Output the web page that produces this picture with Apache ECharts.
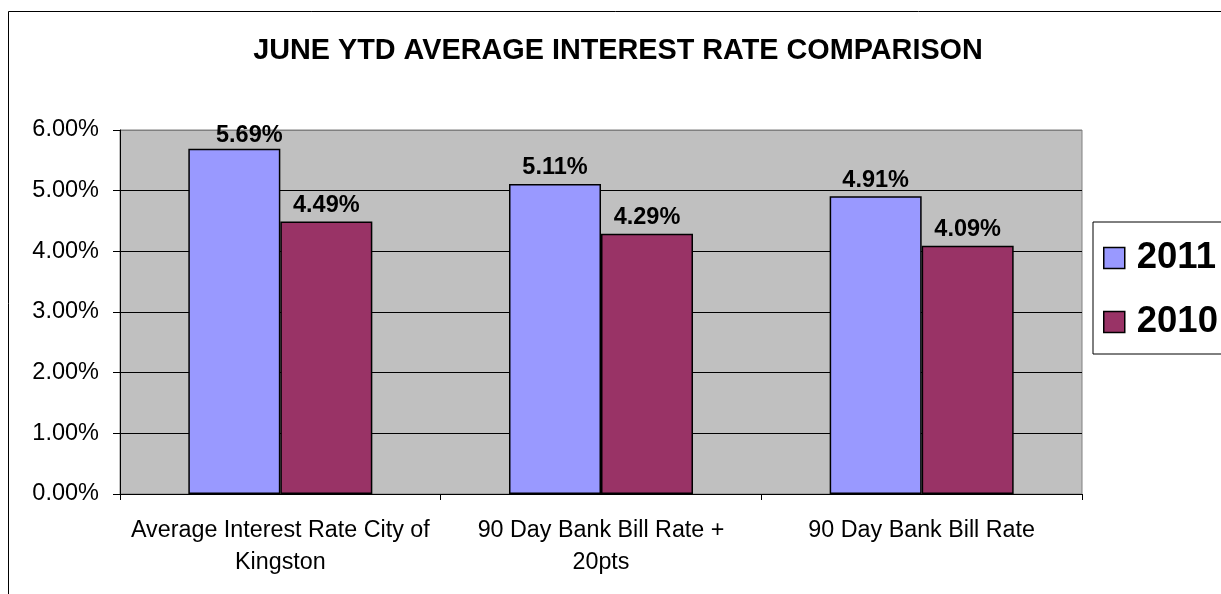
<!DOCTYPE html>
<html>
<head>
<meta charset="utf-8">
<script src="https://cdn.jsdelivr.net/npm/echarts@6/dist/echarts.min.js"></script>
<style>html,body{margin:0;padding:0;background:#fff}#c{width:1221px;height:594px}</style>
</head>
<body>
<div id="c"></div>
<script>
const titleText = 'JUNE YTD AVERAGE INTEREST RATE COMPARISON';
const categories = ['Average Interest Rate City of\nKingston', '90 Day Bank Bill Rate +\n20pts', '90 Day Bank Bill Rate'];
const seriesNames = ['2011', '2010'];
const values2011 = [5.69, 5.11, 4.91];
const values2010 = [4.49, 4.29, 4.09];
const yTicks = [0, 1, 2, 3, 4, 5, 6];

const FONT = '"Liberation Sans", Arial, sans-serif';
const chart = echarts.init(document.getElementById('c'));
const pct = v => Number(v).toFixed(2) + '%';
const barLabel = {
  show: true, position: 'top', distance: 4,
  fontFamily: FONT, fontSize: 23.5, fontWeight: 'bold', color: '#000',
  formatter: p => pct(p.value)
};
// first label in reference is nudged right/down to clear the plot top
const data2011 = values2011.map((v, i) => i === 0 ? { value: v, label: { offset: [15, 3] } } : v);
chart.setOption({
  animation: false,
  backgroundColor: '#fff',
  graphic: [
    { type: 'rect', shape: { x: 8.5, y: 11.5, width: 1400, height: 800 }, style: { fill: 'none', stroke: '#000', lineWidth: 1 }, silent: true, z: -1 },
    { type: 'text', x: 618, y: 51, style: { text: titleText, fontFamily: FONT, fontSize: 28.8, fontWeight: 'bold', fill: '#000', align: 'center', verticalAlign: 'middle' } }
  ],
  grid: { left: 120, right: 139, top: 130, bottom: 100, show: true, backgroundColor: '#C0C0C0', borderColor: '#808080', borderWidth: 1 },
  legend: {
    orient: 'vertical', left: 1093, top: 222,
    padding: [16, 60, 12, 10], itemGap: 24,
    backgroundColor: '#fff', borderColor: '#000', borderWidth: 1,
    itemWidth: 21, itemHeight: 21, icon: 'rect',
    itemStyle: { borderColor: '#000', borderWidth: 1.5 },
    textStyle: { fontFamily: FONT, fontSize: 36.5, fontWeight: 'bold', color: '#000', lineHeight: 40, padding: [0, 0, 0, 7] },
    data: seriesNames
  },
  xAxis: {
    type: 'category', data: categories,
    axisLine: { lineStyle: { color: '#000', width: 1 } },
    axisTick: { show: true, alignWithLabel: false, length: 6, lineStyle: { color: '#000' } },
    axisLabel: { fontFamily: FONT, fontSize: 23.3, color: '#000', lineHeight: 32, margin: 21, interval: 0 }
  },
  yAxis: {
    type: 'value', min: yTicks[0], max: yTicks[yTicks.length - 1], interval: 1,
    axisLine: { show: true, lineStyle: { color: '#000', width: 1 } },
    axisTick: { show: true, length: 7, lineStyle: { color: '#000' } },
    axisLabel: { fontFamily: FONT, fontSize: 23.5, color: '#000', margin: 21, formatter: v => pct(v) },
    splitLine: { show: true, lineStyle: { color: ['#000', '#000', '#000', '#000', '#000', '#000', '#808080'], width: 1 } }
  },
  series: [
    { name: seriesNames[0], type: 'bar', data: data2011, barWidth: 92, barGap: '0%',
      itemStyle: { color: '#9999FF', borderColor: '#000', borderWidth: 1.5 }, label: barLabel },
    { name: seriesNames[1], type: 'bar', data: values2010, barWidth: 92, barGap: '0%',
      itemStyle: { color: '#993366', borderColor: '#000', borderWidth: 1.5 }, label: barLabel }
  ]
});
</script>
</body>
</html>
